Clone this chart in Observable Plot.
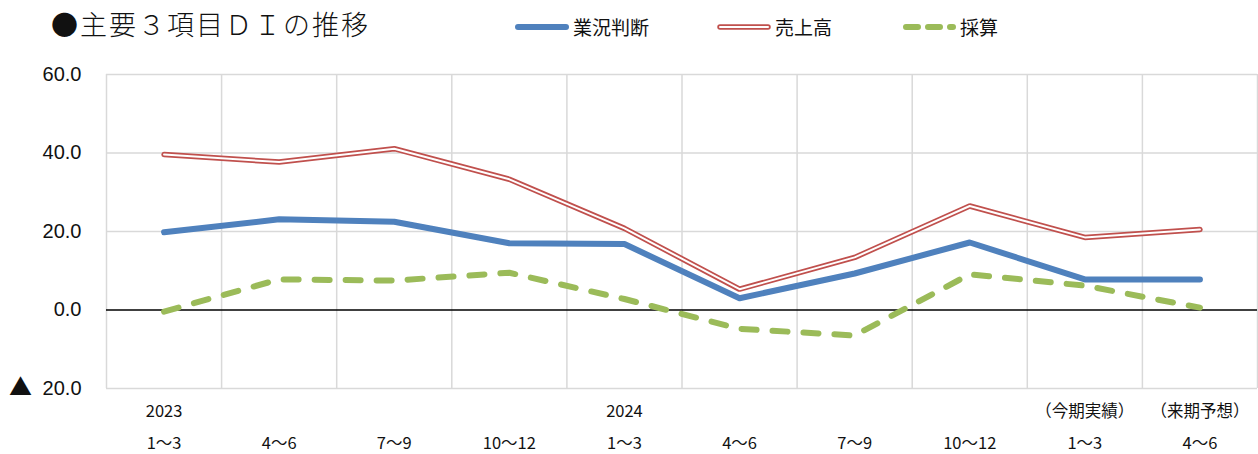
<!DOCTYPE html>
<html><head><meta charset="utf-8">
<script src="https://cdn.jsdelivr.net/npm/d3@7"></script>
<script src="https://cdn.jsdelivr.net/npm/@observablehq/plot@0.6"></script>
<style>
body{margin:0;background:#fff;width:1258px;height:454px;overflow:hidden;font-family:"Noto Sans CJK JP",sans-serif;color:#111;}
#head{position:relative;height:50px;}
#title{position:absolute;left:51px;top:4px;font-size:27px;line-height:40px;letter-spacing:2px;white-space:nowrap;font-weight:300;}
.leg{position:absolute;top:14px;height:26px;font-size:19px;line-height:26px;display:flex;align-items:center;white-space:nowrap;}
.leg svg{margin-right:4px;}
#chart svg{display:block;}
</style></head>
<body>
<div id="head">
  <div id="title">●主要３項目ＤＩの推移</div>
  <div id="legend"></div>
</div>
<div id="chart"></div>
<script>
const periods = ["1～3","4～6","7～9","10～12","1～3","4～6","7～9","10～12","1～3","4～6"];
const years = ["2023","","","","2024","","","","（今期実績）","（来期予想）"];
const seriesNames = ["業況判断","売上高","採算"];
const gyokyo = [19.8, 23.1, 22.5, 17.0, 16.8, 3.0, 9.3, 17.2, 7.8, 7.8];
const uriage = [39.6, 37.7, 41.1, 33.3, 20.8, 5.3, 13.4, 26.5, 18.5, 20.5];
const saisan = [-0.4, 7.8, 7.5, 9.5, 2.8, -4.8, -6.5, 9.1, 6.2, 0.6];
const yTicks = [-20, 0, 20, 40, 60];

const colors = {blue:"#4f81bd", red:"#c0504d", green:"#9bbb59"};

// legend
const legendDefs = [
  {name: seriesNames[0], left: 515, sw: `<line x1="3" y1="6" x2="51" y2="6" stroke="${colors.blue}" stroke-width="6" stroke-linecap="round"/>`},
  {name: seriesNames[1], left: 717, sw: `<line x1="3" y1="6" x2="51" y2="6" stroke="${colors.red}" stroke-width="5.5" stroke-linecap="round"/><line x1="3" y1="6" x2="51" y2="6" stroke="#fff" stroke-width="2" stroke-linecap="round"/>`},
  {name: seriesNames[2], left: 902, sw: `<line x1="4" y1="6" x2="51" y2="6" stroke="${colors.green}" stroke-width="6" stroke-linecap="round" stroke-dasharray="12 10"/>`}
];
const legend = document.getElementById("legend");
for (const d of legendDefs) {
  const el = document.createElement("div");
  el.className = "leg";
  el.style.left = d.left + "px";
  el.innerHTML = `<svg width="54" height="12">${d.sw}</svg><span>${d.name}</span>`;
  legend.appendChild(el);
}

const idx = d3.range(periods.length);
const toRows = vals => vals.map((v, i) => ({i, v}));

const chart = Plot.plot({
  width: 1258, height: 404,
  marginLeft: 106, marginRight: 1, marginTop: 24, marginBottom: 66,
  style: {fontFamily: "'Noto Sans CJK JP', sans-serif", color: "#111", background: "#fff"},
  x: {type: "linear", domain: [-0.5, periods.length - 0.5]},
  y: {domain: [-20, 60]},
  marks: [
    Plot.ruleY(yTicks.filter(d => d !== 0), {stroke: "#d9d9d9", strokeWidth: 1.5}),
    Plot.ruleX(d3.range(-0.5, periods.length, 1), {stroke: "#d9d9d9", strokeWidth: 1.5}),
    Plot.ruleY([0], {stroke: "#000", strokeWidth: 1.5}),
    Plot.axisY({ticks: yTicks, tickFormat: d => d < 0 ? "▲ " + Math.abs(d).toFixed(1) : d.toFixed(1),
      tickSize: 0, tickPadding: 25, fontSize: 20, fontFamily: "'Liberation Sans', Arial, sans-serif", label: null}),
    Plot.axisX({ticks: idx, tickFormat: i => years[i], tickSize: 0, tickPadding: 17, fontSize: 16.5, label: null}),
    Plot.axisX({ticks: idx, tickFormat: i => periods[i], tickSize: 0, tickPadding: 49, fontSize: 16.5, label: null}),
    Plot.line(toRows(gyokyo), {x: "i", y: "v", stroke: colors.blue, strokeWidth: 6, strokeLinejoin: "round", strokeLinecap: "round"}),
    Plot.line(toRows(uriage), {x: "i", y: "v", stroke: colors.red, strokeWidth: 5.5, strokeLinejoin: "miter", strokeLinecap: "round"}),
    Plot.line(toRows(uriage), {x: "i", y: "v", stroke: "#fff", strokeWidth: 2, strokeLinejoin: "miter", strokeLinecap: "round"}),
    Plot.line(toRows(saisan), {x: "i", y: "v", stroke: colors.green, strokeWidth: 6, strokeLinejoin: "round", strokeLinecap: "round", strokeDasharray: "15 16"})
  ]
});
// enlarge the ▲ marker in the negative tick label
d3.select(chart).selectAll("text").each(function() {
  const t = this.textContent;
  if (t.startsWith("▲")) {
    const s = d3.select(this);
    s.text(null);
    s.append("tspan").attr("font-family", "'Noto Sans CJK JP', sans-serif").attr("font-size", 23).text("▲");
    s.append("tspan").attr("dx", 5).text(t.slice(1));
  }
});
document.getElementById("chart").appendChild(chart);
</script>
</body></html>
